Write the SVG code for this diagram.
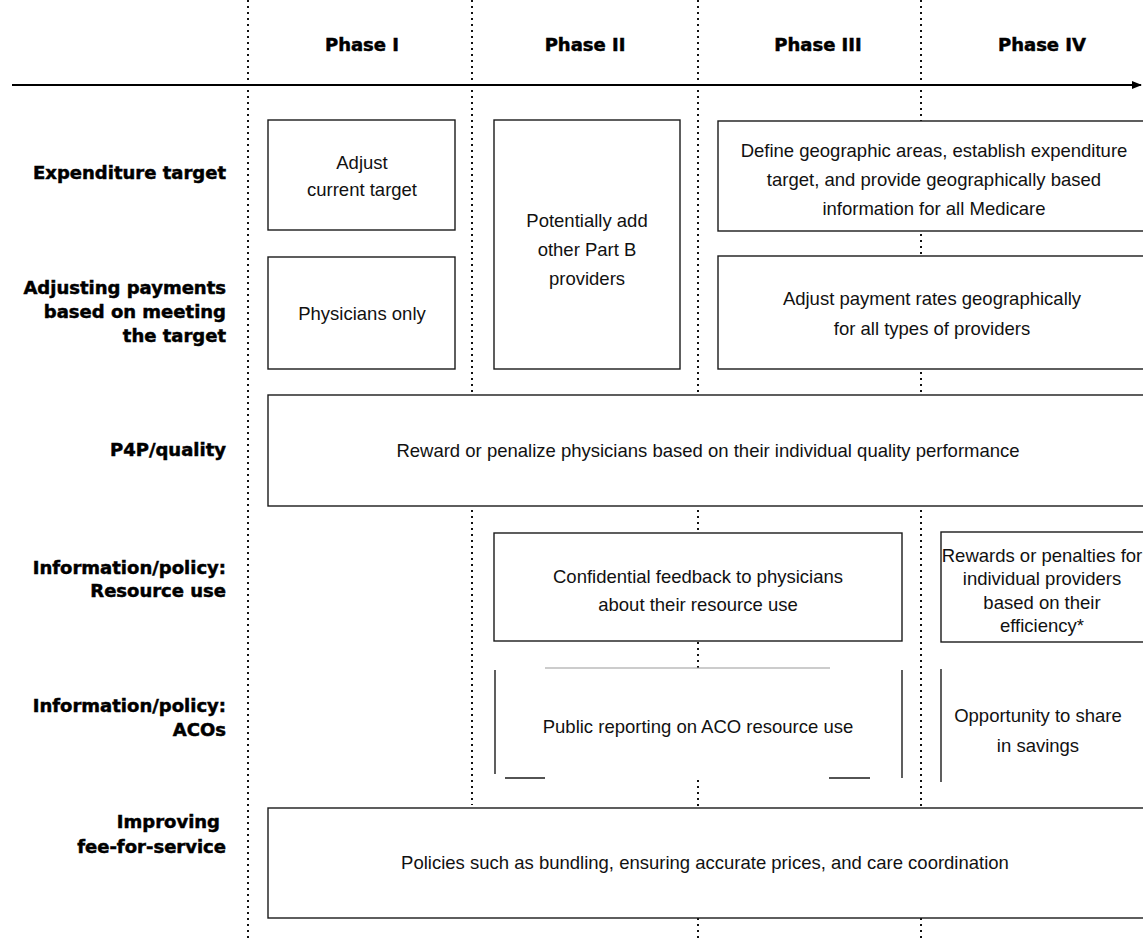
<svg xmlns="http://www.w3.org/2000/svg" width="1143" height="941" viewBox="0 0 1143 941">
<style>
.dot{stroke:#111;stroke-width:2;stroke-dasharray:2,4;fill:none}
.box{fill:#fff;stroke:#1a1a1a;stroke-width:1.4}
.ln{stroke:#1a1a1a;stroke-width:1.4;fill:none}
.gl{stroke:#999;stroke-width:1.2;fill:none}
.t{font-family:"Liberation Sans",Arial,sans-serif;font-size:18.5px;fill:#111;text-anchor:middle}
.lab{font-family:"DejaVu Sans",sans-serif;font-weight:bold;font-size:18px;fill:#000;stroke:#000;stroke-width:0.5;text-anchor:end}
.ph{font-family:"DejaVu Sans",sans-serif;font-weight:bold;font-size:18px;fill:#000;stroke:#000;stroke-width:0.5;text-anchor:middle}
</style>
<defs>
<marker id="arr" markerWidth="10" markerHeight="8" refX="9" refY="4" orient="auto" markerUnits="userSpaceOnUse">
<path d="M0,0 L10,4 L0,8 Z" fill="#000"/>
</marker>
</defs>
<rect width="1143" height="941" fill="#fff"/>
<g id="connectors">
<line class="dot" x1="248" y1="0" x2="248" y2="941"/>
<line class="dot" x1="472" y1="0" x2="472" y2="805"/>
<line class="dot" x1="698" y1="0" x2="698" y2="941"/>
<line class="dot" x1="921" y1="0" x2="921" y2="941"/>
<line x1="12" y1="85" x2="1141" y2="85" stroke="#000" stroke-width="2" marker-end="url(#arr)"/>
</g>
<g id="phases">
<text class="ph" x="362" y="51">Phase I</text>
<text class="ph" x="585" y="51">Phase II</text>
<text class="ph" x="818" y="51">Phase III</text>
<text class="ph" x="1042" y="51">Phase IV</text>
</g>
<g id="labels">
<text class="lab" x="226" y="179">Expenditure target</text>
<text class="lab" x="226" y="294">Adjusting payments</text>
<text class="lab" x="226" y="318">based on meeting</text>
<text class="lab" x="226" y="342">the target</text>
<text class="lab" x="226" y="456">P4P/quality</text>
<text class="lab" x="226" y="574">Information/policy:</text>
<text class="lab" x="226" y="597">Resource use</text>
<text class="lab" x="226" y="712">Information/policy:</text>
<text class="lab" x="226" y="736">ACOs</text>
<text class="lab" x="220" y="828">Improving</text>
<text class="lab" x="226" y="853">fee-for-service</text>
</g>
<g id="n-adjust-target">
<rect class="box" x="268" y="120" width="187" height="110"/>
<text class="t" x="362" y="169">Adjust</text>
<text class="t" x="362" y="196">current target</text>
</g>
<g id="n-physicians-only">
<rect class="box" x="268" y="257" width="187" height="112"/>
<text class="t" x="362" y="320">Physicians only</text>
</g>
<g id="n-part-b">
<rect class="box" x="494" y="120" width="186" height="249"/>
<text class="t" x="587" y="227">Potentially add</text>
<text class="t" x="587" y="256">other Part B</text>
<text class="t" x="587" y="285">providers</text>
</g>
<g id="n-geo-areas">
<rect class="box" x="718" y="121" width="440" height="110"/>
<text class="t" x="934" y="157">Define geographic areas, establish expenditure</text>
<text class="t" x="934" y="186">target, and provide geographically based</text>
<text class="t" x="934" y="215">information for all Medicare</text>
</g>
<g id="n-geo-rates">
<rect class="box" x="718" y="256" width="440" height="113"/>
<text class="t" x="932" y="305">Adjust payment rates geographically</text>
<text class="t" x="932" y="335">for all types of providers</text>
</g>
<g id="n-p4p">
<rect class="box" x="268" y="395" width="890" height="111"/>
<text class="t" x="708" y="457">Reward or penalize physicians based on their individual quality performance</text>
</g>
<g id="n-confidential">
<rect class="box" x="494" y="533" width="408" height="108"/>
<text class="t" x="698" y="583">Confidential feedback to physicians</text>
<text class="t" x="698" y="611">about their resource use</text>
</g>
<g id="n-rewards">
<rect class="box" x="941" y="532" width="220" height="110"/>
<text class="t" x="1042" y="562">Rewards or penalties for</text>
<text class="t" x="1042" y="585">individual providers</text>
<text class="t" x="1042" y="609">based on their</text>
<text class="t" x="1042" y="632">efficiency*</text>
</g>
<g id="n-public-reporting">
<rect x="495" y="668" width="407" height="110" fill="#fff"/>
<line class="gl" x1="545" y1="668" x2="830" y2="668"/>
<line class="ln" x1="495" y1="670" x2="495" y2="774"/>
<line class="ln" x1="902" y1="670" x2="902" y2="778"/>
<line class="ln" x1="505" y1="778" x2="545" y2="778"/>
<line class="ln" x1="829" y1="778" x2="870" y2="778"/>
<text class="t" x="698" y="733">Public reporting on ACO resource use</text>
</g>
<g id="n-savings">
<rect x="941" y="668" width="202" height="110" fill="#fff"/>
<line class="ln" x1="941" y1="669" x2="941" y2="782"/>
<text class="t" x="1038" y="722">Opportunity to share</text>
<text class="t" x="1038" y="752">in savings</text>
</g>
<g id="n-ffs">
<rect class="box" x="268" y="808" width="890" height="110"/>
<text class="t" x="705" y="869">Policies such as bundling, ensuring accurate prices, and care coordination</text>
</g>
</svg>
